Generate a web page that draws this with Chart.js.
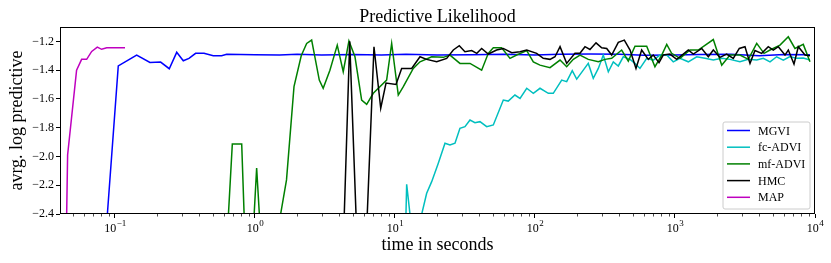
<!DOCTYPE html>
<html>
<head>
<meta charset="utf-8">
<script src="https://cdn.jsdelivr.net/npm/chart.js@4.4.1/dist/chart.umd.min.js"></script>
<style>
  html, body { margin: 0; padding: 0; background: #fff; }
  #wrap { width: 831px; height: 263px; }
</style>
</head>
<body>
<div id="wrap"><canvas id="likelihoodChart" width="831" height="263"></canvas></div>
<script>
const chartTitle = "Predictive Likelihood";
const xTitle = "time in seconds";
const yTitle = "avrg. log predictive";

const seriesLabels = ["MGVI", "fc-ADVI", "mf-ADVI", "HMC", "MAP"];
const seriesColors = ["#0000ff", "#00bfbf", "#008000", "#000000", "#bf00bf"];

// time (s) / avg. log predictive
const mgviTime = [0.0875, 0.1056, 0.1429, 0.1778, 0.2119, 0.2443, 0.2761, 0.3076, 0.3378, 0.3767, 0.4325, 0.5035, 0.578, 0.628, 1.0, 1.5, 2.0, 3.0, 5.0, 8.0, 12, 20, 35, 60, 100, 150, 250, 400, 600, 1000, 1500, 2500, 4000, 6000, 9200];
const mgviValue = [-2.45, -1.37, -1.295, -1.346, -1.344, -1.39, -1.276, -1.335, -1.318, -1.283, -1.283, -1.30, -1.30, -1.29, -1.293, -1.295, -1.29, -1.295, -1.292, -1.295, -1.29, -1.295, -1.293, -1.29, -1.295, -1.29, -1.288, -1.29, -1.297, -1.295, -1.292, -1.29, -1.30, -1.292, -1.293];

const fcTime = [11.85, 12.12, 13.48, 13.88, 16.84, 18.29, 20.39, 22.76, 24.71, 26.83, 29.11, 31.62, 34.34, 37.27, 40.46, 45.2, 50.4, 59.4, 64.4, 71.9, 78.2, 87.3, 97.3, 108.6, 124.5, 135.1, 155.2, 168.4, 184.6, 198.6, 221.3, 240.2, 260.8, 283.4, 307.5, 334, 362.6, 393.6, 427.4, 477.5, 518, 562, 628, 700, 781, 873, 972, 1086, 1245, 1429, 1638, 1878, 2157, 2471, 2911, 3340, 3834, 4274, 4772, 5321, 5940, 6626, 7400, 8246, 9206];
const fcValue = [-2.6, -2.193, -2.6, -2.6, -2.256, -2.175, -2.047, -1.908, -1.92, -1.908, -1.804, -1.793, -1.747, -1.765, -1.758, -1.793, -1.781, -1.608, -1.615, -1.573, -1.596, -1.526, -1.561, -1.526, -1.561, -1.561, -1.469, -1.48, -1.404, -1.462, -1.40, -1.353, -1.457, -1.388, -1.295, -1.411, -1.342, -1.371, -1.307, -1.325, -1.353, -1.388, -1.318, -1.33, -1.295, -1.295, -1.342, -1.318, -1.342, -1.307, -1.318, -1.33, -1.318, -1.325, -1.342, -1.325, -1.33, -1.318, -1.342, -1.307, -1.33, -1.305, -1.318, -1.315, -1.33];

const mfTime = [0.63, 0.689, 0.804, 0.85, 0.95, 1.028, 1.12, 1.35, 1.68, 1.90, 2.14, 2.34, 2.54, 2.88, 3.07, 3.43, 3.87, 4.27, 4.69, 5.18, 5.78, 6.28, 7.00, 8.72, 9.47, 10.56, 11.47, 13.51, 15.09, 18.28, 22.13, 24.71, 29.11, 34.36, 41.6, 46.4, 50.4, 57.8, 66.3, 74.0, 87.3, 97.3, 108.6, 128, 151, 168.4, 187.8, 209.6, 240.2, 283.4, 316, 353, 416, 464, 518, 628, 719, 804, 873, 946, 1086, 1280, 1466, 1878, 2157, 2471, 2911, 3340, 3834, 4324, 4772, 5623, 6447, 7194, 8246, 9206];
const mfValue = [-2.6, -1.913, -1.913, -2.6, -2.7, -2.08, -2.7, -2.7, -2.163, -1.515, -1.30, -1.214, -1.191, -1.469, -1.526, -1.40, -1.226, -1.411, -1.198, -1.307, -1.608, -1.638, -1.561, -1.469, -1.214, -1.573, -1.515, -1.388, -1.342, -1.307, -1.311, -1.295, -1.353, -1.353, -1.40, -1.283, -1.244, -1.244, -1.318, -1.295, -1.264, -1.342, -1.365, -1.383, -1.33, -1.376, -1.325, -1.295, -1.325, -1.342, -1.325, -1.318, -1.26, -1.337, -1.233, -1.233, -1.376, -1.295, -1.221, -1.283, -1.318, -1.26, -1.26, -1.187, -1.365, -1.295, -1.295, -1.325, -1.214, -1.283, -1.26, -1.226, -1.168, -1.249, -1.221, -1.342];

const hmcTime = [4.28, 4.75, 5.36, 6.22, 7.08, 7.91, 8.63, 10.17, 11.16, 13.16, 15.09, 16.83, 19.86, 23.4, 26.1, 28.8, 31.6, 35.3, 38.4, 41.6, 46.4, 53.2, 59.4, 68.2, 78.2, 87.3, 102.8, 114.6, 128, 139, 151, 168.4, 193, 209.6, 227.6, 247, 272.9, 299.5, 325.2, 353, 393.6, 434.5, 477.5, 526.6, 578, 644.7, 699.8, 769, 824, 920, 1028, 1146, 1245, 1352, 1552, 1730, 1878, 2095, 2339, 2608, 2879, 3162, 3434, 3726, 4159, 4637, 5035, 5470, 6105, 6447, 7079, 7600, 8486, 9206];
const hmcValue = [-2.6, -1.20, -2.6, -2.6, -1.237, -1.665, -1.49, -1.50, -1.388, -1.388, -1.307, -1.325, -1.342, -1.318, -1.26, -1.23, -1.272, -1.264, -1.283, -1.249, -1.288, -1.26, -1.249, -1.279, -1.272, -1.26, -1.283, -1.318, -1.325, -1.307, -1.237, -1.353, -1.283, -1.283, -1.237, -1.256, -1.21, -1.244, -1.249, -1.295, -1.207, -1.191, -1.26, -1.388, -1.26, -1.325, -1.295, -1.348, -1.295, -1.288, -1.325, -1.288, -1.26, -1.288, -1.249, -1.307, -1.26, -1.311, -1.288, -1.318, -1.249, -1.237, -1.353, -1.264, -1.283, -1.237, -1.26, -1.237, -1.295, -1.26, -1.357, -1.237, -1.295, -1.30];

const mapTime = [0.0451, 0.0459, 0.0532, 0.0578, 0.0628, 0.0682, 0.0748, 0.0803, 0.0873, 0.118];
const mapValue = [-2.45, -1.99, -1.40, -1.325, -1.325, -1.27, -1.24, -1.255, -1.245, -1.245];

const xTickValues = [0.1, 1, 10, 100, 1000, 10000];
const xTickBase = "10";
const xTickExponents = ["\u22121", "0", "1", "2", "3", "4"];
const yTickValues = [-2.4, -2.2, -2.0, -1.8, -1.6, -1.4, -1.2];
const yTickLabels = ["\u22122.4", "\u22122.2", "\u22122.0", "\u22121.8", "\u22121.6", "\u22121.4", "\u22121.2"];

const X_MIN = 0.0405, X_MAX = 10000;
const FONT = "'Liberation Serif', 'DejaVu Serif', serif";

function toPoints(times, values) {
    return times.map((t, i) => ({ x: t, y: values[i] }));
}

const allSeries = [
    toPoints(mgviTime, mgviValue),
    toPoints(fcTime, fcValue),
    toPoints(mfTime, mfValue),
    toPoints(hmcTime, hmcValue),
    toPoints(mapTime, mapValue)
];

const datasets = allSeries.map((pts, i) => ({
    label: seriesLabels[i],
    data: pts,
    borderColor: seriesColors[i],
    backgroundColor: seriesColors[i],
    borderWidth: 1.5,
    pointRadius: 0,
    tension: 0,
    fill: false,
    order: seriesLabels.length - i   // later series drawn on top, like matplotlib
}));

// box around the axes, short minor ticks and 10^n labels on the log axis
const framePlugin = {
    id: 'frame',
    afterDatasetsDraw(chart) {
        const { ctx, chartArea: a } = chart;
        ctx.save();
        ctx.strokeStyle = '#000';
        ctx.lineWidth = 1;
        ctx.strokeRect(Math.round(a.left) + 0.5, Math.round(a.top) + 0.5,
            Math.round(a.right - a.left) - 1, Math.round(a.bottom - a.top) - 1);
        const xs = chart.scales.x;
        ctx.lineWidth = 0.7;
        xs.ticks.forEach(t => {
            if (t.major) return;
            const px = Math.round(xs.getPixelForValue(t.value)) + 0.5;
            ctx.beginPath();
            ctx.moveTo(px, a.bottom);
            ctx.lineTo(px, a.bottom + 2.5);
            ctx.stroke();
        });
        // power-of-ten labels with a raised exponent
        ctx.fillStyle = '#000';
        ctx.textBaseline = 'alphabetic';
        ctx.textAlign = 'left';
        xTickValues.forEach((v, i) => {
            const px = xs.getPixelForValue(v);
            ctx.font = "12px " + FONT;
            const wb = ctx.measureText(xTickBase).width;
            ctx.font = "9px " + FONT;
            const we = ctx.measureText(xTickExponents[i]).width;
            const x0 = px - (wb + we) / 2;
            ctx.font = "12px " + FONT;
            ctx.fillText(xTickBase, x0, a.bottom + 17.5);
            ctx.font = "9px " + FONT;
            ctx.fillText(xTickExponents[i], x0 + wb + 0.5, a.bottom + 12);
        });
        // title centred over the axes, as matplotlib does
        ctx.textAlign = 'center';
        ctx.font = "18px " + FONT;
        ctx.fillText(chartTitle, (a.left + a.right) / 2, a.top - 5.5);
        ctx.restore();
    }
};

// matplotlib style legend in the lower right of the axes
const legendPlugin = {
    id: 'boxLegend',
    afterDraw(chart) {
        const { ctx, chartArea: a } = chart;
        const w = 87, h = 87, rowH = 16.7;
        const x0 = a.right - 5.5 - w, y0 = a.bottom - 5.5 - h;
        ctx.save();
        ctx.beginPath();
        ctx.roundRect(x0 + 0.5, y0 + 0.5, w, h, 2);
        ctx.fillStyle = 'rgba(255,255,255,0.8)';
        ctx.fill();
        ctx.strokeStyle = '#cccccc';
        ctx.lineWidth = 1;
        ctx.stroke();
        ctx.font = "12px " + FONT;
        ctx.textBaseline = 'middle';
        chart.data.datasets.forEach((ds, i) => {
            const y = y0 + 9 + i * rowH;
            ctx.strokeStyle = ds.borderColor;
            ctx.lineWidth = 1.5;
            ctx.beginPath();
            ctx.moveTo(x0 + 4.5, y);
            ctx.lineTo(x0 + 27.5, y);
            ctx.stroke();
            ctx.fillStyle = '#000';
            ctx.fillText(ds.label, x0 + 35.5, y + 1);
        });
        ctx.restore();
    }
};

const ctx = document.getElementById('likelihoodChart').getContext('2d');
const likelihoodChart = new Chart(ctx, {
    type: 'line',
    data: { datasets: datasets },
    plugins: [framePlugin, legendPlugin],
    options: {
        responsive: false,
        animation: false,
        devicePixelRatio: 1,
        layout: { padding: { left: 0, right: 16, top: 27, bottom: 0 } },
        plugins: {
            legend: { display: false },
            tooltip: { enabled: false },
            title: { display: false }
        },
        scales: {
            x: {
                type: 'logarithmic',
                min: X_MIN,
                max: X_MAX,
                afterBuildTicks: scale => {
                    const ticks = [];
                    for (let e = -2; e <= 4; e++) {
                        for (let m = 1; m <= 9; m++) {
                            const v = m * Math.pow(10, e);
                            if (v >= X_MIN && v <= X_MAX * 1.0001) ticks.push({ value: v, major: m === 1 });
                        }
                    }
                    scale.ticks = ticks;
                },
                afterFit: scale => { scale.height = 49; },
                border: { display: false },
                grid: {
                    drawOnChartArea: false,
                    drawTicks: true,
                    tickLength: 4,
                    tickWidth: 1,
                    tickColor: c => (c.tick && c.tick.major) ? '#000' : 'rgba(0,0,0,0)'
                },
                ticks: {
                    autoSkip: false,
                    maxRotation: 0,
                    callback: () => ''
                },
                title: {
                    display: true,
                    text: xTitle,
                    color: '#000',
                    font: { family: FONT, size: 18 },
                    padding: { top: 0, bottom: 7 }
                }
            },
            y: {
                min: -2.4,
                max: -1.1,
                afterBuildTicks: scale => {
                    scale.ticks = yTickValues.map(v => ({ value: v }));
                },
                afterFit: scale => { scale.width = 60; },
                border: { display: false },
                grid: {
                    drawOnChartArea: false,
                    drawTicks: true,
                    tickLength: 4,
                    tickColor: '#000'
                },
                ticks: {
                    padding: 2,
                    color: '#000',
                    font: { family: FONT, size: 12 },
                    callback: (value, index) => yTickLabels[index]
                },
                title: {
                    display: true,
                    text: yTitle,
                    color: '#000',
                    font: { family: FONT, size: 18 },
                    padding: { top: 6, bottom: 0 }
                }
            }
        }
    }
});
</script>
</body>
</html>
